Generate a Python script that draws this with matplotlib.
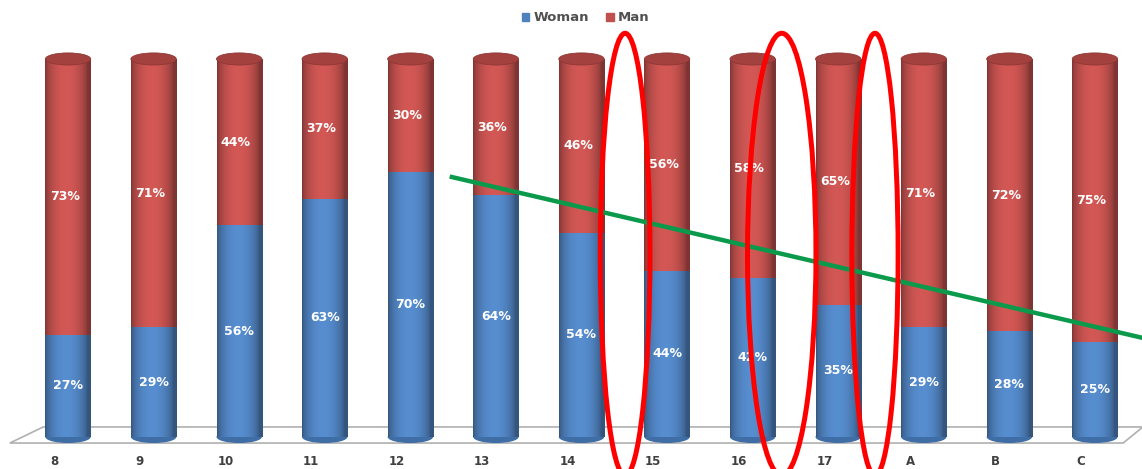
import matplotlib

matplotlib.use("Agg")
import matplotlib.pyplot as plt
import numpy as np
from matplotlib.colors import to_rgb
from matplotlib.patches import Ellipse, Patch, Polygon

# data (percent of each group)
categories = ["8", "9", "10", "11", "12", "13", "14", "15", "16", "17", "A", "B", "C"]
woman = [27, 29, 56, 63, 70, 64, 54, 44, 42, 35, 29, 28, 25]
man = [73, 71, 44, 37, 30, 36, 46, 56, 58, 65, 71, 72, 75]

# hand-drawn annotations on top of the chart (in category / percent units)
ring_x = [6.51, 8.34, 9.43]
ring_w = [0.58, 0.80, 0.54]
trend_x = [4.46, 12.56]
trend_y = [68.9, 26.2]

BLUE = "#4f81bd"
RED = "#c0504d"
BAR_W = 0.53
CAP_H = 3.2


def shade(color, n=64):
    # horizontal light/dark profile that fakes a cylinder
    t = np.linspace(0, 1, n)
    light = 0.66 + 0.44 * np.sin(np.pi * np.clip(t * 1.08, 0, 1)) ** 0.6
    rgb = np.array(to_rgb(color))
    img = np.clip(rgb[None, :] * light[:, None], 0, 1)
    return img[None, :, :]


def cylinder(ax, x, bottom, height, color, z):
    patches = ax.bar(x, height, BAR_W, bottom=bottom, color=color, linewidth=0, zorder=z)
    rect = patches[0]
    im = ax.imshow(
        shade(color),
        extent=[x - BAR_W / 2, x + BAR_W / 2, bottom, bottom + height],
        aspect="auto",
        zorder=z + 0.1,
        interpolation="bilinear",
    )
    im.set_clip_path(rect)


fig = plt.figure(figsize=(11.42, 4.69), dpi=100)
ax = fig.add_axes([0, 0, 1, 1])
ax.set_axis_off()

# floor plane
floor = Polygon(
    [(-0.68, -1.6), (12.33, -1.6), (12.56, 2.65), (-0.29, 2.65)],
    closed=True,
    facecolor="white",
    edgecolor="#b0b0b0",
    linewidth=1.2,
    zorder=1,
)
ax.add_patch(floor)

xs = np.arange(len(categories))
for i in xs:
    # rounded base
    ax.add_patch(Ellipse((i, 0), BAR_W, CAP_H, facecolor="#3f6da5", edgecolor="none", zorder=2))
    cylinder(ax, i, 0, woman[i], BLUE, 3)
    cylinder(ax, i, woman[i], man[i], RED, 3)
    # seam between the two segments
    ax.add_patch(
        Ellipse((i, woman[i]), BAR_W * 0.98, CAP_H * 0.6, facecolor="#4a79b3",
                edgecolor="none", zorder=3.05)
    )
    # top cap
    top = woman[i] + man[i]
    ax.add_patch(
        Ellipse((i, top), BAR_W, CAP_H, facecolor="#a3413f", edgecolor="#8e3735",
                linewidth=0.6, zorder=4)
    )

    ax.text(i, woman[i] / 2, f"{woman[i]}%", ha="center", va="center",
            color="white", fontsize=9, fontweight="bold", zorder=5)
    ax.text(i - 0.04, woman[i] + man[i] / 2, f"{man[i]}%", ha="center", va="center",
            color="white", fontsize=9, fontweight="bold", zorder=5)
    ax.text(i - 0.16, -6.4, categories[i], ha="center", va="center",
            color="#404040", fontsize=8.5, fontweight="bold")

# green trend stroke
ax.plot(trend_x, trend_y, color="#0b9a4c", linewidth=3.2, solid_capstyle="butt", zorder=6)

# red rings
for cx, w in zip(ring_x, ring_w):
    ax.add_patch(
        Ellipse((cx, 48.3), w, 117.0, facecolor="none", edgecolor="#ff0000",
                linewidth=3.6, zorder=7)
    )

ax.set_xlim(-0.795, 12.55)
ax.set_ylim(-8.47, 115.6)

fig.legend(
    handles=[Patch(color=BLUE, label="Woman"), Patch(color=RED, label="Man")],
    loc="center",
    bbox_to_anchor=(0.513, 0.962),
    ncol=2,
    frameon=False,
    prop={"size": 9.5, "weight": "bold"},
    handlelength=0.55,
    handleheight=0.55,
    handletextpad=0.35,
    columnspacing=1.3,
    labelcolor="#505050",
)

fig.savefig("out.png", dpi=100)
plt.close(fig)
